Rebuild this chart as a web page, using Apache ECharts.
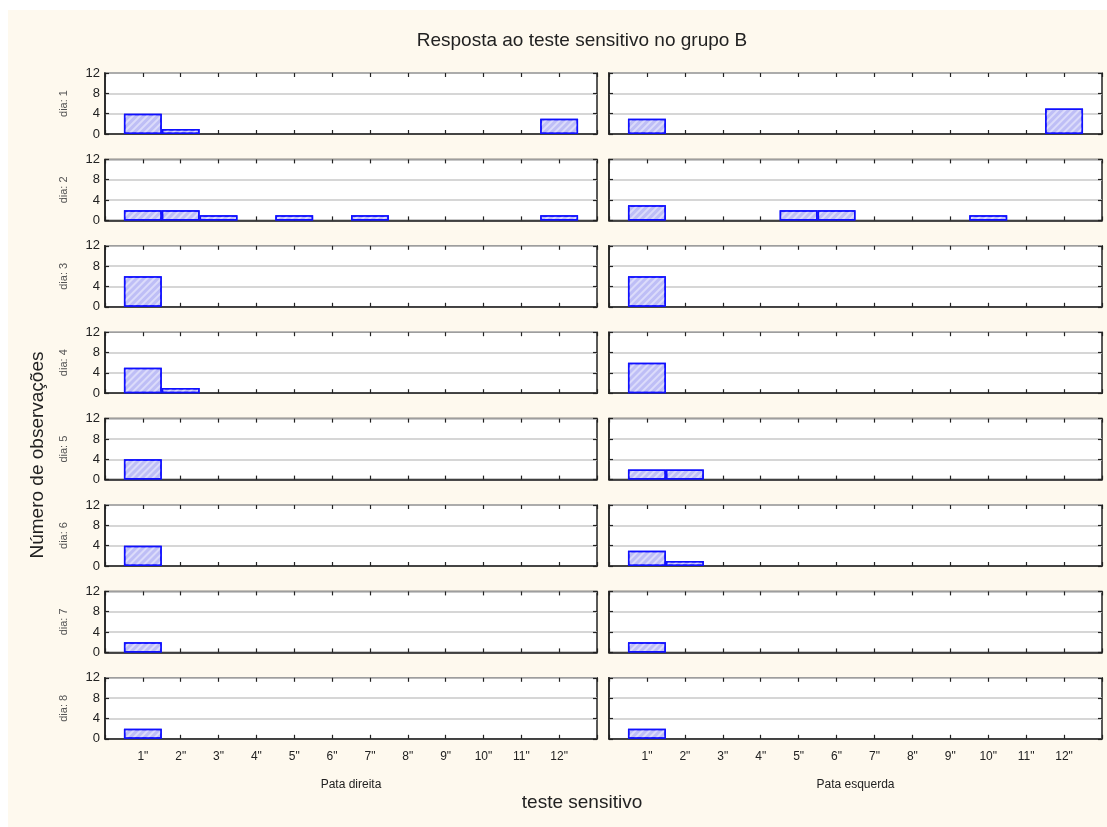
<!DOCTYPE html>
<html>
<head>
<meta charset="utf-8">
<script src="https://cdn.jsdelivr.net/npm/echarts@6/dist/echarts.min.js"></script>
<style>
html,body{margin:0;padding:0;background:#ffffff;}
#chart{width:1107px;height:827px;}
</style>
</head>
<body>
<div id="chart"></div>
<script>
const categories = ['1"','2"','3"','4"','5"','6"','7"','8"','9"','10"','11"','12"'];
const dayLabels = ['dia: 1','dia: 2','dia: 3','dia: 4','dia: 5','dia: 6','dia: 7','dia: 8'];
const yTicks = [0, 4, 8, 12];

// Pata direita (left column)
const direitaDia1 = [4,1,0,0,0,0,0,0,0,0,0,3];
const direitaDia2 = [2,2,1,0,1,0,1,0,0,0,0,1];
const direitaDia3 = [6,0,0,0,0,0,0,0,0,0,0,0];
const direitaDia4 = [5,1,0,0,0,0,0,0,0,0,0,0];
const direitaDia5 = [4,0,0,0,0,0,0,0,0,0,0,0];
const direitaDia6 = [4,0,0,0,0,0,0,0,0,0,0,0];
const direitaDia7 = [2,0,0,0,0,0,0,0,0,0,0,0];
const direitaDia8 = [2,0,0,0,0,0,0,0,0,0,0,0];

// Pata esquerda (right column)
const esquerdaDia1 = [3,0,0,0,0,0,0,0,0,0,0,5];
const esquerdaDia2 = [3,0,0,0,2,2,0,0,0,1,0,0];
const esquerdaDia3 = [6,0,0,0,0,0,0,0,0,0,0,0];
const esquerdaDia4 = [6,0,0,0,0,0,0,0,0,0,0,0];
const esquerdaDia5 = [2,2,0,0,0,0,0,0,0,0,0,0];
const esquerdaDia6 = [3,1,0,0,0,0,0,0,0,0,0,0];
const esquerdaDia7 = [2,0,0,0,0,0,0,0,0,0,0,0];
const esquerdaDia8 = [2,0,0,0,0,0,0,0,0,0,0,0];

const columnTitles = ['Pata direita', 'Pata esquerda'];
const direita = [direitaDia1,direitaDia2,direitaDia3,direitaDia4,direitaDia5,direitaDia6,direitaDia7,direitaDia8];
const esquerda = [esquerdaDia1,esquerdaDia2,esquerdaDia3,esquerdaDia4,esquerdaDia5,esquerdaDia6,esquerdaDia7,esquerdaDia8];

const FONT = 'Liberation Sans, Arial, sans-serif';
const axisCats = [''].concat(categories, ['']);
const colLeft = [105, 609];
const colWidth = [492, 493];
const rowTop0 = 73, rowStep = 86.4, rowH = 61;
const tickStyle = { show: true, inside: true, length: 4, lineStyle: { color: '#222222', width: 1.2 } };

const grids = [], xAxes = [], yAxes = [], series = [];
for (let r = 0; r < 8; r++) {
  for (let c = 0; c < 2; c++) {
    const g = r * 2 + c;
    const isBottom = r === 7;
    const isLeft = c === 0;
    grids.push({
      left: colLeft[c], top: rowTop0 + r * rowStep, width: colWidth[c], height: rowH,
      show: true, backgroundColor: '#ffffff', borderColor: '#222222', borderWidth: 1.5,
      containLabel: false
    });
    xAxes.push({
      gridIndex: g, type: 'category', data: axisCats, boundaryGap: false, position: 'bottom',
      axisLine: { show: true, onZero: false, lineStyle: { color: '#222222', width: 1.5 } },
      axisTick: tickStyle,
      axisLabel: { show: isBottom, interval: 0, fontFamily: FONT, fontSize: 12, color: '#222222', margin: 12 },
      splitLine: { show: false },
      name: isBottom ? columnTitles[c] : '', nameLocation: 'middle', nameGap: 40,
      nameTextStyle: { fontFamily: FONT, fontSize: 12, color: '#222222' }
    });
    xAxes.push({
      gridIndex: g, type: 'category', data: axisCats, boundaryGap: false, position: 'top',
      axisLine: { show: false, onZero: false },
      axisTick: tickStyle,
      axisLabel: { show: false }, splitLine: { show: false }
    });
    yAxes.push({
      gridIndex: g, type: 'value', min: yTicks[0], max: yTicks[yTicks.length - 1], interval: yTicks[1] - yTicks[0],
      position: 'left',
      axisLine: { show: true, onZero: false, lineStyle: { color: '#222222', width: 1.5 } },
      axisTick: tickStyle,
      axisLabel: { show: isLeft, fontFamily: FONT, fontSize: 13, color: '#222222', margin: 5 },
      splitLine: { show: true, lineStyle: { color: '#c8c8c8', width: 1.5 } },
      name: isLeft ? dayLabels[r] : '', nameLocation: 'middle', nameGap: 36, nameRotate: 90,
      nameTextStyle: { fontFamily: FONT, fontSize: 11, color: '#555555' }
    });
    yAxes.push({
      gridIndex: g, type: 'value', min: yTicks[0], max: yTicks[yTicks.length - 1], interval: yTicks[1] - yTicks[0],
      position: 'right',
      axisLine: { show: false, onZero: false },
      axisTick: tickStyle,
      axisLabel: { show: false }, splitLine: { show: false }
    });
    const vals = (isLeft ? direita : esquerda)[r];
    series.push({
      type: 'bar', xAxisIndex: 2 * g, yAxisIndex: 2 * g,
      data: ['-'].concat(vals.map(v => (v ? v : '-')), ['-']),
      barWidth: '100%',
      itemStyle: {
        color: '#bebef6', borderColor: '#1010ff', borderWidth: 1.5,
        decal: { symbol: 'rect', symbolSize: 1, color: 'rgba(255,255,255,0.45)', dashArrayX: [1, 0], dashArrayY: [2, 3], rotation: -Math.PI / 4 }
      },
      emphasis: { disabled: true },
      silent: true, animation: false
    });
  }
}

const chart = echarts.init(document.getElementById('chart'), null, { renderer: 'canvas' });
chart.setOption({
  backgroundColor: '#ffffff',
  animation: false,
  graphic: [
    { type: 'rect', z: -100, silent: true, shape: { x: 8, y: 10, width: 1099, height: 817 }, style: { fill: '#fef9ee' } },
    { type: 'text', z: 100, silent: true, style: { text: 'Resposta ao teste sensitivo no grupo B', x: 582, y: 41, textAlign: 'center', textVerticalAlign: 'middle', font: '19px ' + FONT, fill: '#222222' } },
    { type: 'text', z: 100, silent: true, style: { text: 'teste sensitivo', x: 582, y: 803, textAlign: 'center', textVerticalAlign: 'middle', font: '19px ' + FONT, fill: '#222222' } },
    { type: 'text', z: 100, silent: true, x: 38, y: 455, rotation: Math.PI / 2, style: { text: 'Número de observações', x: 0, y: 0, textAlign: 'center', textVerticalAlign: 'middle', font: '19px ' + FONT, fill: '#222222' } }
  ],
  grid: grids,
  xAxis: xAxes,
  yAxis: yAxes,
  series: series
});
</script>
</body>
</html>
